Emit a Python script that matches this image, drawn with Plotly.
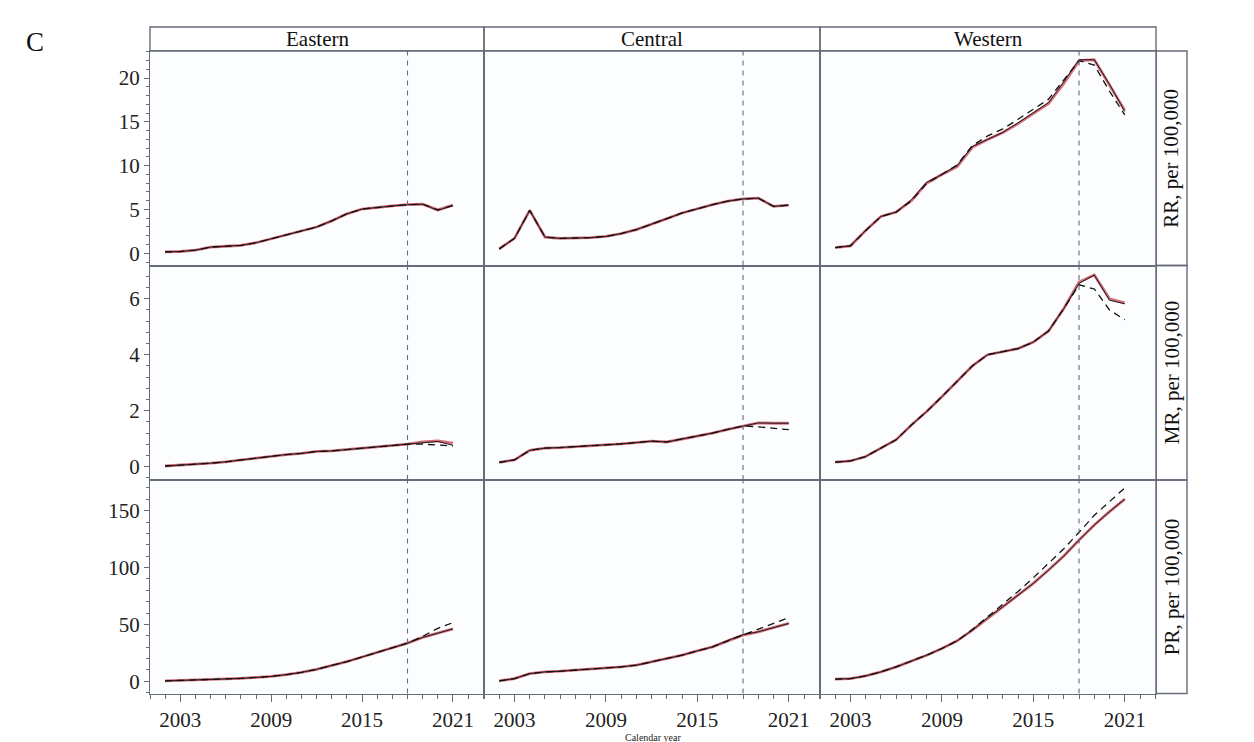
import plotly.graph_objects as go

years = list(range(2002, 2022))
regions = ["Eastern", "Central", "Western"]
measures = ["RR, per 100,000", "MR, per 100,000", "PR, per 100,000"]
intervention_year = 2018

# ---- RR ----
rr_east_fit = [0.15, 0.2, 0.35, 0.7, 0.8, 0.9, 1.2, 1.65, 2.05, 2.55, 3.0, 3.7, 4.5, 5.05, 5.25, 5.4, 5.55, 5.6, 4.95, 5.5]
rr_east_obs = [0.15, 0.2, 0.35, 0.7, 0.8, 0.9, 1.2, 1.65, 2.05, 2.55, 3.0, 3.7, 4.5, 5.05, 5.25, 5.4, 5.55, 5.6, 4.9, 5.45]
rr_east_cf = [0.15, 0.2, 0.35, 0.7, 0.8, 0.9, 1.2, 1.65, 2.05, 2.55, 3.0, 3.7, 4.5, 5.05, 5.25, 5.4, 5.55, 5.6, 4.95, 5.45]

rr_cent_fit = [0.5, 1.7, 4.9, 1.85, 1.7, 1.7, 1.78, 1.92, 2.25, 2.7, 3.3, 3.95, 4.6, 5.1, 5.55, 5.95, 6.2, 6.3, 5.35, 5.5]
rr_cent_obs = [0.5, 1.7, 4.9, 1.85, 1.7, 1.7, 1.78, 1.92, 2.25, 2.7, 3.3, 3.95, 4.6, 5.1, 5.55, 5.95, 6.2, 6.3, 5.35, 5.5]
rr_cent_cf = [0.5, 1.7, 4.9, 1.85, 1.7, 1.7, 1.78, 1.92, 2.25, 2.7, 3.3, 3.95, 4.6, 5.1, 5.55, 5.95, 6.2, 6.3, 5.35, 5.5]

rr_west_fit = [0.65, 0.85, 2.6, 4.2, 4.7, 6.0, 8.0, 9.0, 9.9, 12.1, 13.0, 13.8, 14.8, 15.9, 17.1, 19.4, 22.0, 22.1, 19.2, 16.3]
rr_west_obs = [0.65, 0.85, 2.6, 4.2, 4.7, 6.1, 8.1, 9.0, 10.0, 12.2, 13.0, 13.8, 14.9, 16.0, 17.2, 19.6, 22.1, 22.1, 19.3, 16.2]
rr_west_cf = [0.65, 0.85, 2.6, 4.2, 4.7, 6.0, 8.0, 9.0, 10.1, 12.3, 13.4, 14.2, 15.3, 16.4, 17.6, 19.8, 22.0, 21.5, 18.5, 15.8]

# ---- MR ----
mr_east_fit = [0.02, 0.05, 0.08, 0.12, 0.17, 0.24, 0.31, 0.37, 0.43, 0.47, 0.54, 0.56, 0.61, 0.65, 0.7, 0.74, 0.8, 0.88, 0.92, 0.84]
mr_east_obs = [0.02, 0.05, 0.08, 0.12, 0.17, 0.24, 0.31, 0.37, 0.43, 0.47, 0.54, 0.56, 0.61, 0.65, 0.7, 0.74, 0.8, 0.86, 0.9, 0.76]
mr_east_cf = [0.02, 0.05, 0.08, 0.12, 0.17, 0.24, 0.31, 0.37, 0.43, 0.47, 0.54, 0.56, 0.61, 0.65, 0.7, 0.74, 0.8, 0.8, 0.78, 0.74]

mr_cent_fit = [0.15, 0.24, 0.58, 0.66, 0.68, 0.71, 0.75, 0.79, 0.81, 0.86, 0.91, 0.88, 0.98, 1.08, 1.2, 1.33, 1.45, 1.56, 1.55, 1.55]
mr_cent_obs = [0.15, 0.24, 0.58, 0.66, 0.68, 0.71, 0.75, 0.79, 0.81, 0.86, 0.91, 0.88, 0.98, 1.08, 1.2, 1.33, 1.45, 1.56, 1.55, 1.55]
mr_cent_cf = [0.15, 0.24, 0.58, 0.66, 0.68, 0.71, 0.75, 0.79, 0.81, 0.86, 0.91, 0.88, 0.98, 1.08, 1.2, 1.33, 1.45, 1.42, 1.37, 1.32]

mr_west_fit = [0.16, 0.2, 0.36, 0.66, 0.96, 1.49, 1.97, 2.5, 3.04, 3.6, 4.0, 4.1, 4.22, 4.45, 4.85, 5.65, 6.6, 6.85, 6.0, 5.85]
mr_west_obs = [0.16, 0.2, 0.36, 0.66, 0.96, 1.49, 1.97, 2.5, 3.04, 3.6, 4.0, 4.1, 4.22, 4.45, 4.85, 5.65, 6.55, 6.85, 5.95, 5.82]
mr_west_cf = [0.16, 0.2, 0.36, 0.66, 0.96, 1.49, 1.97, 2.5, 3.04, 3.6, 4.0, 4.1, 4.22, 4.45, 4.85, 5.65, 6.5, 6.35, 5.6, 5.25]

# ---- PR ----
pr_east_fit = [0.3, 0.6, 1.0, 1.5, 2.0, 2.5, 3.2, 4.2, 5.8, 7.8, 10.5, 13.8, 17.3, 21.3, 25.3, 29.3, 33.5, 38.5, 42.3, 46.0]
pr_east_obs = [0.3, 0.6, 1.0, 1.5, 2.0, 2.5, 3.2, 4.2, 5.8, 7.8, 10.5, 13.8, 17.3, 21.3, 25.3, 29.3, 33.5, 38.5, 42.3, 46.0]
pr_east_cf = [0.3, 0.6, 1.0, 1.5, 2.0, 2.5, 3.2, 4.2, 5.8, 7.8, 10.5, 13.8, 17.3, 21.3, 25.3, 29.3, 33.5, 39.5, 46.5, 51.5]

pr_cent_fit = [0.3, 2.3, 6.7, 8.2, 8.8, 9.7, 10.3, 11.2, 12.6, 14.1, 17.0, 20.0, 22.9, 26.7, 30.2, 35.5, 40.5, 43.5, 47.3, 50.8]
pr_cent_obs = [0.3, 2.3, 6.7, 8.2, 8.8, 9.7, 10.3, 11.2, 12.6, 14.1, 17.0, 20.0, 22.9, 26.7, 30.2, 35.8, 41.0, 43.5, 47.3, 50.8]
pr_cent_cf = [0.3, 2.3, 6.7, 8.2, 8.8, 9.7, 10.3, 11.2, 12.6, 14.1, 17.0, 20.0, 22.9, 26.7, 30.2, 35.5, 40.5, 46.0, 51.0, 56.0]

pr_west_fit = [1.8, 2.3, 4.7, 8.2, 12.6, 17.6, 22.9, 28.8, 35.5, 44.9, 55.2, 65.5, 75.8, 86.1, 97.8, 110.1, 124.2, 137.4, 149.2, 160.1]
pr_west_obs = [1.8, 2.3, 4.7, 8.2, 12.6, 17.6, 22.9, 28.8, 35.5, 44.9, 55.8, 65.5, 75.8, 86.1, 97.8, 110.1, 124.2, 137.4, 149.2, 160.1]
pr_west_cf = [1.8, 2.3, 4.7, 8.2, 12.6, 17.6, 22.9, 28.8, 35.5, 45.5, 56.5, 67.5, 79.0, 91.0, 103.5, 116.5, 131.0, 146.0, 158.0, 170.0]

panels = [
    [(rr_east_obs, rr_east_fit, rr_east_cf), (rr_cent_obs, rr_cent_fit, rr_cent_cf), (rr_west_obs, rr_west_fit, rr_west_cf)],
    [(mr_east_obs, mr_east_fit, mr_east_cf), (mr_cent_obs, mr_cent_fit, mr_cent_cf), (mr_west_obs, mr_west_fit, mr_west_cf)],
    [(pr_east_obs, pr_east_fit, pr_east_cf), (pr_cent_obs, pr_cent_fit, pr_cent_cf), (pr_west_obs, pr_west_fit, pr_west_cf)],
]

y_ranges = [[-1.4, 23.1], [-0.48, 7.19], [-10.8, 177]]
y_dtick = [5, 2, 50]
y_minor = [1, 0.4, 10]

# ---- layout geometry (page pixels; page body has an 8px margin) ----
W, H = 1254, 742
OFF = 8
col_px = [(150, 484), (484, 820), (820, 1156)]
row_px = [(51, 265.5), (265.5, 480), (480, 693.5)]
strip_top = 27
right_strip = (1156, 1187)

def fx(p):
    return (p - OFF) / W

def fy(p):
    return 1 - (p - OFF) / H

FONT = "Liberation Serif"
LINE = "#676b7a"
fig = go.Figure()
layout = {}
shapes = []
annotations = []

for r in range(3):
    for c in range(3):
        idx = r * 3 + c + 1
        sfx = "" if idx == 1 else str(idx)
        obs, fit, cf = panels[r][c]
        xa, ya = "x" + sfx, "y" + sfx
        fig.add_trace(go.Scatter(x=years, y=fit, mode="lines", xaxis=xa, yaxis=ya,
                                 line=dict(color="rgba(205,75,90,0.8)", width=2.8), showlegend=False))
        fig.add_trace(go.Scatter(x=years, y=obs, mode="lines", xaxis=xa, yaxis=ya,
                                 line=dict(color="#1a1a1a", width=1.0), showlegend=False))
        fig.add_trace(go.Scatter(x=years, y=cf, mode="lines", xaxis=xa, yaxis=ya,
                                 line=dict(color="#111111", width=1.3, dash="7px,5px"), showlegend=False))
        xd = [fx(col_px[c][0]), fx(col_px[c][1])]
        yd = [fy(row_px[r][1]), fy(row_px[r][0])]
        xax = dict(domain=xd, range=[2001.0, 2023.05], anchor=ya, showgrid=False, zeroline=False,
                   showline=True, mirror=True, linecolor=LINE, linewidth=1.1)
        yax = dict(domain=yd, range=y_ranges[r], anchor=xa, showgrid=False, zeroline=False,
                   showline=True, mirror=True, linecolor=LINE, linewidth=1.1)
        if r == 2:
            xax.update(tickmode="linear", tick0=2003, dtick=6, ticks="outside", ticklen=7,
                       tickcolor=LINE, tickwidth=1.2, showticklabels=True,
                       tickfont=dict(family=FONT, size=21, color="#222"),
                       minor=dict(tickmode="linear", tick0=2002, dtick=1, ticks="outside",
                                  ticklen=4, tickcolor=LINE, tickwidth=1))
        else:
            xax.update(showticklabels=False, ticks="")
        if c == 0:
            yax.update(tickmode="linear", tick0=0, dtick=y_dtick[r], ticks="outside", ticklen=5,
                       tickcolor=LINE, tickwidth=1.2, showticklabels=True,
                       tickfont=dict(family=FONT, size=21, color="#222"),
                       minor=dict(tickmode="linear", tick0=0, dtick=y_minor[r], ticks="outside",
                                  ticklen=3, tickcolor=LINE, tickwidth=1))
        else:
            yax.update(showticklabels=False, ticks="")
        layout["xaxis" + sfx] = xax
        layout["yaxis" + sfx] = yax
        shapes.append(dict(type="line", xref=xa, yref=ya + " domain", x0=intervention_year,
                           x1=intervention_year, y0=0, y1=1,
                           line=dict(color=LINE, width=1.1, dash="5px,5px")))

# top strips
for c in range(3):
    shapes.append(dict(type="rect", xref="paper", yref="paper",
                       x0=fx(col_px[c][0]), x1=fx(col_px[c][1]), y0=fy(row_px[0][0]), y1=fy(strip_top),
                       line=dict(color=LINE, width=1.4), fillcolor="rgba(0,0,0,0)"))
    annotations.append(dict(text=regions[c], xref="paper", yref="paper",
                            x=fx((col_px[c][0] + col_px[c][1]) / 2), y=fy((strip_top + row_px[0][0]) / 2),
                            showarrow=False, font=dict(family=FONT, size=21, color="#111"),
                            xanchor="center", yanchor="middle"))
# right strips
for r in range(3):
    shapes.append(dict(type="rect", xref="paper", yref="paper",
                       x0=fx(right_strip[0]), x1=fx(right_strip[1]), y0=fy(row_px[r][1]), y1=fy(row_px[r][0]),
                       line=dict(color=LINE, width=1.4), fillcolor="rgba(0,0,0,0)"))
    annotations.append(dict(text=measures[r], xref="paper", yref="paper", textangle=-90,
                            x=fx((right_strip[0] + right_strip[1]) / 2), y=fy((row_px[r][0] + row_px[r][1]) / 2),
                            showarrow=False, font=dict(family=FONT, size=21, color="#111"),
                            xanchor="center", yanchor="middle"))

annotations.append(dict(text="C", xref="paper", yref="paper", x=fx(24), y=fy(42), showarrow=False,
                        font=dict(family=FONT, size=27, color="#111"), xanchor="left", yanchor="middle"))
annotations.append(dict(text="Calendar year", xref="paper", yref="paper", x=fx(653), y=fy(730.5),
                        showarrow=False, font=dict(family=FONT, size=10, color="#222"),
                        xanchor="center", yanchor="top", borderpad=0))

fig.update_layout(width=W, height=H, margin=dict(l=0, r=0, t=0, b=0, autoexpand=False),
                  paper_bgcolor="white", plot_bgcolor="#fcfdff",
                  shapes=shapes, annotations=annotations, showlegend=False, **layout)

fig.write_html("out.html")
